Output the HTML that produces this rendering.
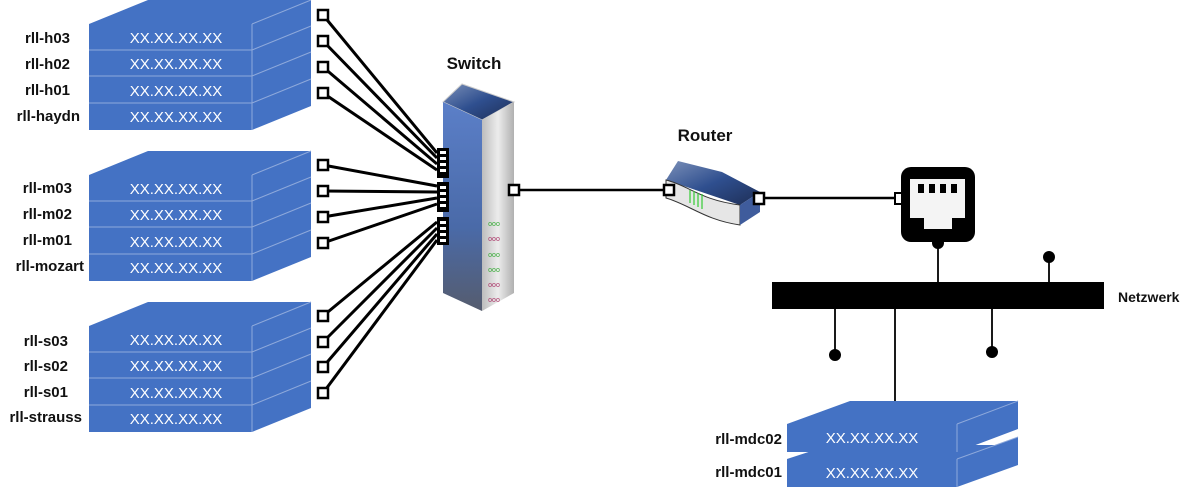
<!DOCTYPE html>
<html><head><meta charset="utf-8"><style>
body{margin:0;background:#fff;}
svg text{font-family:"Liberation Sans",sans-serif;}
.lb{font-size:15px;font-weight:bold;fill:#111;text-anchor:end;}
.ip{font-size:15px;fill:#fff;text-anchor:middle;}
</style></head><body>
<svg width="1200" height="496" viewBox="0 0 1200 496" xmlns="http://www.w3.org/2000/svg">
<defs>
<linearGradient id="sf" x1="0" x2="0" y1="0" y2="1"><stop offset="0" stop-color="#5b7fc8"/><stop offset="0.6" stop-color="#4a6aa8"/><stop offset="1" stop-color="#555c6e"/></linearGradient>
<linearGradient id="ss" x1="0" x2="1"><stop offset="0" stop-color="#bdbdbd"/><stop offset="0.5" stop-color="#ececec"/><stop offset="1" stop-color="#b0b0b0"/></linearGradient>
<linearGradient id="st" x1="0" x2="1" y1="0" y2="1"><stop offset="0" stop-color="#7a8fb8"/><stop offset="0.5" stop-color="#2f4f8f"/><stop offset="1" stop-color="#1e2e55"/></linearGradient>
<g id="stack">
<polygon points="89,0 148,-24 311,-24 252,0" fill="#4472c4"/>
<polygon points="252,0 311,-24 311,82 252,106" fill="#4472c4"/>
<rect x="89" y="0" width="163" height="106" fill="#4472c4"/>
<g stroke="#8ea9db" stroke-width="1" fill="none">
<line x1="89" y1="26" x2="252" y2="26"/><line x1="89" y1="52" x2="252" y2="52"/><line x1="89" y1="79" x2="252" y2="79"/>
<line x1="252" y1="0" x2="252" y2="106"/><line x1="252" y1="0" x2="311" y2="-24"/>
<line x1="252" y1="26" x2="311" y2="2"/><line x1="252" y1="52" x2="311" y2="28"/><line x1="252" y1="79" x2="311" y2="55"/>
</g>
<text class="ip" x="176" y="19">XX.XX.XX.XX</text>
<text class="ip" x="176" y="45">XX.XX.XX.XX</text>
<text class="ip" x="176" y="72">XX.XX.XX.XX</text>
<text class="ip" x="176" y="98">XX.XX.XX.XX</text>
</g>
</defs>
<use href="#stack" transform="translate(0,24)"/>
<use href="#stack" transform="translate(0,175)"/>
<use href="#stack" transform="translate(0,326)"/>
<text class="lb" x="70" y="43">rll-h03</text><text class="lb" x="70" y="69">rll-h02</text><text class="lb" x="70" y="95">rll-h01</text><text class="lb" x="80" y="121">rll-haydn</text>
<text class="lb" x="72" y="193">rll-m03</text><text class="lb" x="72" y="219">rll-m02</text><text class="lb" x="72" y="245">rll-m01</text><text class="lb" x="84" y="271">rll-mozart</text>
<text class="lb" x="68" y="346">rll-s03</text><text class="lb" x="68" y="371">rll-s02</text><text class="lb" x="68" y="397">rll-s01</text><text class="lb" x="82" y="422">rll-strauss</text>
<g stroke="#000" stroke-width="3" fill="none">
<line x1="323" y1="15" x2="437" y2="153"/><line x1="323" y1="41" x2="437" y2="158"/><line x1="323" y1="67" x2="437" y2="164"/><line x1="323" y1="93" x2="437" y2="170"/>
<line x1="323" y1="165" x2="437" y2="186"/><line x1="323" y1="191" x2="437" y2="192"/><line x1="323" y1="217" x2="437" y2="198"/><line x1="323" y1="243" x2="437" y2="204"/>
<line x1="323" y1="316" x2="437" y2="222"/><line x1="323" y1="342" x2="437" y2="228"/><line x1="323" y1="367" x2="437" y2="234"/><line x1="323" y1="393" x2="437" y2="240"/>
</g>
<g fill="#fff" stroke="#000" stroke-width="2.5">
<rect x="318" y="10" width="10" height="10"/><rect x="318" y="36" width="10" height="10"/><rect x="318" y="62" width="10" height="10"/><rect x="318" y="88" width="10" height="10"/>
<rect x="318" y="160" width="10" height="10"/><rect x="318" y="186" width="10" height="10"/><rect x="318" y="212" width="10" height="10"/><rect x="318" y="238" width="10" height="10"/>
<rect x="318" y="311" width="10" height="10"/><rect x="318" y="337" width="10" height="10"/><rect x="318" y="362" width="10" height="10"/><rect x="318" y="388" width="10" height="10"/>
</g>
<text x="474" y="69" font-size="17" font-weight="bold" text-anchor="middle" fill="#111">Switch</text>
<polygon points="443,102 462,84 514,102 482,120" fill="url(#st)" stroke="#ccc"/>
<polygon points="443,102 482,120 482,311 443,293" fill="url(#sf)"/>
<polygon points="482,120 514,102 514,293 482,311" fill="url(#ss)"/>
<g fill="#000"><rect x="437" y="148" width="12" height="30"/><rect x="437" y="182" width="12" height="30"/><rect x="437" y="217" width="12" height="28"/></g>
<g fill="#fff"><rect x="440" y="151" width="6" height="3"/><rect x="440" y="157" width="6" height="3"/><rect x="440" y="163" width="6" height="3"/><rect x="440" y="169" width="6" height="3"/><rect x="440" y="186" width="6" height="3"/><rect x="440" y="192" width="6" height="3"/><rect x="440" y="198" width="6" height="3"/><rect x="440" y="204" width="6" height="3"/><rect x="440" y="221" width="6" height="3"/><rect x="440" y="227" width="6" height="3"/><rect x="440" y="233" width="6" height="3"/><rect x="440" y="239" width="6" height="3"/></g>
<g font-size="7" text-anchor="middle"><text x="494" y="226" fill="#3a3">ooo</text><text x="494" y="241" fill="#a36">ooo</text><text x="494" y="257" fill="#3a3">ooo</text><text x="494" y="272" fill="#3a3">ooo</text><text x="494" y="287" fill="#a36">ooo</text><text x="494" y="302" fill="#a36">ooo</text></g>
<line x1="513" y1="190" x2="668" y2="190" stroke="#000" stroke-width="2.5"/>
<rect x="509" y="185" width="10" height="10" fill="#fff" stroke="#000" stroke-width="2.5"/>
<text x="705" y="141" font-size="17" font-weight="bold" text-anchor="middle" fill="#111">Router</text>
<polygon points="666,180 678,161 722,172 760,192 740,205" fill="url(#st)"/>
<path d="M666,180 C690,186 700,200 740,205 L740,225 C705,220 690,205 666,198 Z" fill="#e6e6e6" stroke="#333"/>
<polygon points="740,205 760,192 760,212 740,225" fill="#3f5c9c"/>
<g stroke="#3c3" stroke-width="1.2"><line x1="690" y1="190" x2="690" y2="203"/><line x1="694" y1="191" x2="694" y2="205"/><line x1="698" y1="193" x2="698" y2="207"/><line x1="702" y1="194" x2="702" y2="209"/></g>
<line x1="762" y1="198" x2="900" y2="198" stroke="#000" stroke-width="2.5"/>
<rect x="664" y="185" width="10" height="10" fill="#fff" stroke="#000" stroke-width="2.5"/>
<rect x="754" y="193" width="10" height="11" fill="#fff" stroke="#000" stroke-width="2.5"/>
<rect x="895" y="193" width="7" height="11" fill="#fff" stroke="#000" stroke-width="2"/>
<rect x="901" y="167" width="74" height="75" rx="10" fill="#000"/>
<polygon points="910,179 965,179 965,218 952,218 952,229 924,229 924,218 910,218" fill="#f4f4f4"/>
<g fill="#000"><rect x="918" y="184" width="6" height="9"/><rect x="929" y="184" width="6" height="9"/><rect x="940" y="184" width="6" height="9"/><rect x="951" y="184" width="6" height="9"/></g>
<circle cx="938" cy="243" r="6" fill="#000"/>
<g stroke="#000" stroke-width="1.8"><line x1="938" y1="243" x2="938" y2="283"/><line x1="1049" y1="257" x2="1049" y2="283"/><line x1="835" y1="308" x2="835" y2="355"/><line x1="895" y1="308" x2="895" y2="402"/><line x1="992" y1="308" x2="992" y2="352"/></g>
<circle cx="1049" cy="257" r="6" fill="#000"/><circle cx="835" cy="355" r="6" fill="#000"/><circle cx="992" cy="352" r="6" fill="#000"/>
<rect x="772" y="282" width="332" height="27" fill="#000"/>
<text x="1118" y="302" font-size="14" font-weight="bold" fill="#111">Netzwerk</text>
<polygon points="787,459 830,445 1018,445 957,459" fill="#4472c4"/>
<polygon points="957,459 1018,437 1018,465 957,487" fill="#4472c4"/>
<rect x="787" y="459" width="170" height="28" fill="#4472c4"/>
<polygon points="787,424 850,401 1018,401 957,424" fill="#4472c4"/>
<polygon points="957,424 1018,401 1018,429 957,452" fill="#4472c4"/>
<rect x="787" y="424" width="170" height="28" fill="#4472c4"/>
<g stroke="#8ea9db" fill="none"><line x1="957" y1="424" x2="957" y2="452"/><line x1="957" y1="424" x2="1018" y2="401"/><line x1="957" y1="459" x2="957" y2="487"/><line x1="957" y1="459" x2="1018" y2="437"/></g>
<text class="ip" x="872" y="443">XX.XX.XX.XX</text>
<text class="ip" x="872" y="478">XX.XX.XX.XX</text>
<text class="lb" x="782" y="444">rll-mdc02</text>
<text class="lb" x="782" y="477">rll-mdc01</text>
</svg>
</body></html>
